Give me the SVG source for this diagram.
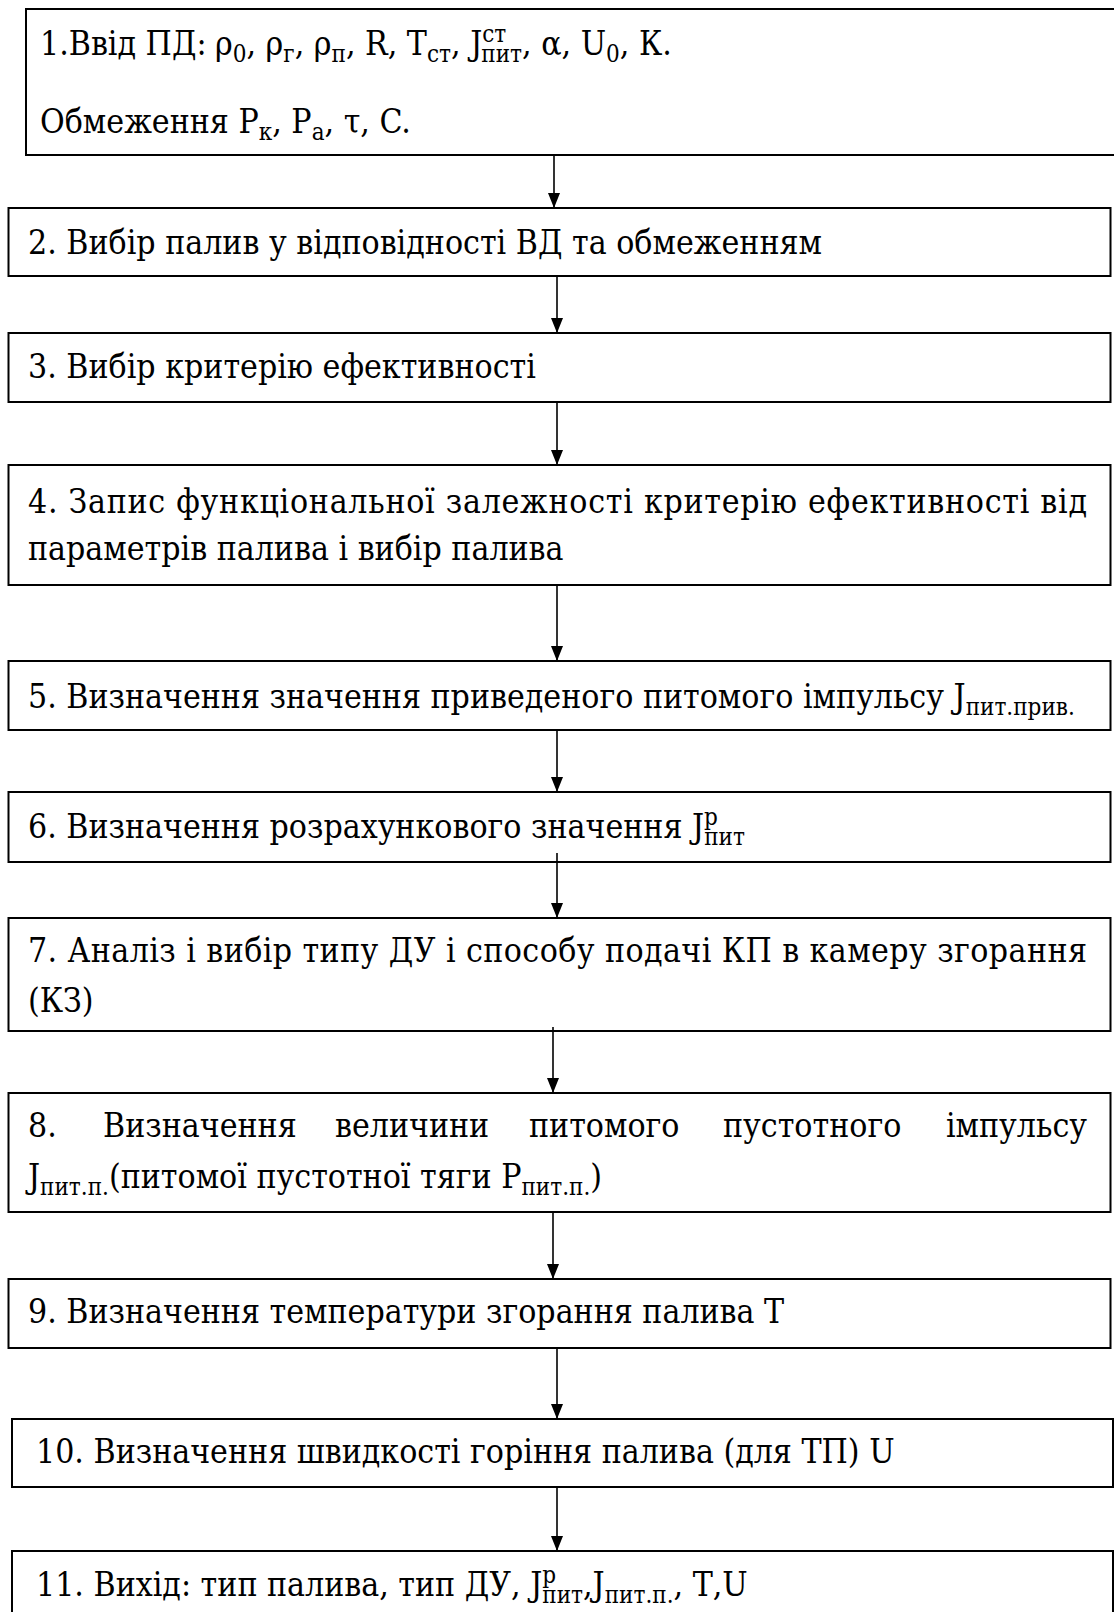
<svg xmlns="http://www.w3.org/2000/svg" width="1114" height="1612" viewBox="0 0 1114 1612">
<style>
.box{fill:#fff;stroke:#000;stroke-width:2}
.t{font-family:"DejaVu Serif","Liberation Serif",serif;font-stretch:condensed;font-size:33.5px;fill:#000}
.s{font-size:24px}
.c{stroke:#000;stroke-width:1.6;fill:none}
</style>
<defs>
<marker id="ah" viewBox="0 0 15 12" refX="15" refY="6" markerWidth="15" markerHeight="12" markerUnits="userSpaceOnUse" orient="auto">
<path d="M0,0 L15,6 L0,12 z" fill="#000"/>
</marker>
</defs>
<rect width="1114" height="1612" fill="#fff"/>
<g id="n1">
<rect class="box" x="26" y="9" width="1100" height="146"/>
<text class="t" x="40" y="55">1.Ввід ПД:<tspan x="215">ρ</tspan><tspan class="s" dy="7">0</tspan><tspan dy="-7">, ρ</tspan><tspan class="s" dy="7">г</tspan><tspan dy="-7">, ρ</tspan><tspan class="s" dy="7">п</tspan><tspan dy="-7">, R, T</tspan><tspan class="s" dy="7">ст</tspan><tspan dy="-7">, J</tspan><tspan class="s" dy="-13">ст</tspan><tspan class="s" dx="-25" dy="20">пит</tspan><tspan dy="-7">, α, U</tspan><tspan class="s" dy="7">0</tspan><tspan dy="-7">, К.</tspan></text>
<text class="t" x="40" y="133">Обмеження P<tspan class="s" dy="7">к</tspan><tspan dy="-7">, P</tspan><tspan class="s" dy="7">а</tspan><tspan dy="-7">, τ, C.</tspan></text>
</g>
<g id="n2">
<rect class="box" x="8.5" y="208" width="1102" height="68"/>
<text class="t" x="28" y="254">2. Вибір палив у відповідності ВД та обмеженням</text>
</g>
<g id="n3">
<rect class="box" x="8.5" y="333" width="1102" height="69"/>
<text class="t" x="28" y="378">3. Вибір критерію ефективності</text>
</g>
<g id="n4">
<rect class="box" x="8.5" y="465" width="1102" height="120"/>
<text class="t" x="28" y="513" textLength="1059" lengthAdjust="spacing">4. Запис функціональної залежності критерію ефективності від</text>
<text class="t" x="28" y="560">параметрів палива і вибір палива</text>
</g>
<g id="n5">
<rect class="box" x="8.5" y="661" width="1102" height="69"/>
<text class="t" x="28" y="708">5. Визначення значення приведеного питомого імпульсу J<tspan class="s" dy="7">пит.прив.</tspan></text>
</g>
<g id="n6">
<rect class="box" x="8.5" y="792" width="1102" height="70"/>
<text class="t" x="28" y="838">6. Визначення розрахункового значення J<tspan class="s" dy="-13">р</tspan><tspan class="s" dx="-13.8" dy="20">пит</tspan></text>
</g>
<g id="n7">
<rect class="box" x="8.5" y="918" width="1102" height="113"/>
<text class="t" x="28" y="962" textLength="1059" lengthAdjust="spacing">7. Аналіз і вибір типу ДУ і способу подачі КП в камеру згорання</text>
<text class="t" x="28" y="1012">(КЗ)</text>
</g>
<g id="n8">
<rect class="box" x="8.5" y="1093" width="1102" height="119"/>
<text class="t" y="1137"><tspan x="28">8.</tspan><tspan x="103">Визначення</tspan><tspan x="335">величини</tspan><tspan x="529">питомого</tspan><tspan x="723">пустотного</tspan></text>
<text class="t" x="1087" y="1137" text-anchor="end">імпульсу</text>
<text class="t" x="28" y="1188">J<tspan class="s" dy="7">пит.п.</tspan><tspan dy="-7">(питомої пустотної тяги P</tspan><tspan class="s" dy="7">пит.п.</tspan><tspan dy="-7">)</tspan></text>
</g>
<g id="n9">
<rect class="box" x="8.5" y="1279" width="1102" height="69"/>
<text class="t" x="28" y="1323">9. Визначення температури згорання палива Т</text>
</g>
<g id="n10">
<rect class="box" x="12" y="1419" width="1101" height="68"/>
<text class="t" x="36" y="1463">10. Визначення швидкості горіння палива (для ТП) U</text>
</g>
<g id="n11">
<rect class="box" x="12" y="1551" width="1101" height="80"/>
<text class="t" x="36" y="1596">11. Вихід: тип палива, тип ДУ, J<tspan class="s" dy="-13">р</tspan><tspan class="s" dx="-13.8" dy="20">пит</tspan><tspan dy="-7">,J</tspan><tspan class="s" dy="7">пит.п.</tspan><tspan dy="-7">, Т,U</tspan></text>
</g>
<g id="connectors">
<line class="c" x1="554" y1="155" x2="554" y2="208" marker-end="url(#ah)"/>
<line class="c" x1="557" y1="276" x2="557" y2="333" marker-end="url(#ah)"/>
<line class="c" x1="557" y1="402" x2="557" y2="465" marker-end="url(#ah)"/>
<line class="c" x1="557" y1="585" x2="557" y2="661" marker-end="url(#ah)"/>
<line class="c" x1="557" y1="730" x2="557" y2="792" marker-end="url(#ah)"/>
<line class="c" x1="557" y1="853" x2="557" y2="918" marker-end="url(#ah)"/>
<line class="c" x1="553" y1="1027" x2="553" y2="1093" marker-end="url(#ah)"/>
<line class="c" x1="553" y1="1212" x2="553" y2="1279" marker-end="url(#ah)"/>
<line class="c" x1="557" y1="1348" x2="557" y2="1419" marker-end="url(#ah)"/>
<line class="c" x1="557" y1="1487" x2="557" y2="1551" marker-end="url(#ah)"/>
</g>
</svg>
